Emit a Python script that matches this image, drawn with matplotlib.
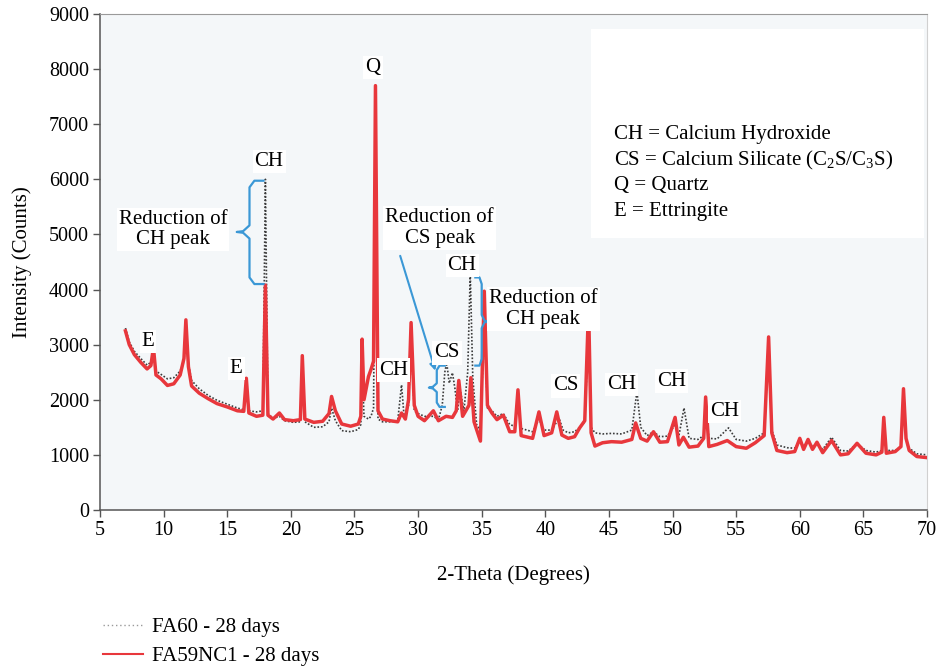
import numpy as np
import matplotlib
matplotlib.use('Agg')
import matplotlib.pyplot as plt
from matplotlib.lines import Line2D
from matplotlib.patches import Rectangle

plt.rcParams['font.family'] = ['Liberation Serif', 'DejaVu Serif']
plt.rcParams['mathtext.fontset'] = 'custom'
plt.rcParams['mathtext.rm'] = 'Liberation Serif'
plt.rcParams['mathtext.it'] = 'Liberation Serif:italic'

# FA59NC1 - 28 days (red)
red_theta = [7.0, 7.3, 7.7, 8.2, 8.7, 9.0, 9.2, 9.4, 9.8, 10.3, 10.8, 11.3, 11.6, 11.75, 11.95,
             12.2, 12.8, 13.5, 14.2, 15.0, 15.8, 16.3, 16.5, 16.7, 17.3, 17.8, 18.0, 18.2, 18.6,
             19.1, 19.5, 20.2, 20.75, 20.9, 21.1, 21.8, 22.5, 23.0, 23.2, 23.5, 24.0, 24.7, 25.3,
             25.5, 25.6, 25.75, 26.1, 26.3, 26.5, 26.65, 26.85, 27.2, 27.8, 28.4, 28.7, 29.0,
             29.25, 29.45, 29.7, 30.0, 30.5, 31.2, 31.6, 32.2, 32.7, 33.0, 33.2, 33.5, 34.0,
             34.15, 34.4, 34.9, 35.2, 35.45, 35.8, 36.2, 36.7, 37.2, 37.6, 37.85, 38.1, 39.0,
             39.5, 39.9, 40.5, 40.9, 41.3, 41.8, 42.3, 42.7, 43.1, 43.4, 43.6, 43.9, 44.5, 45.2,
             46.0, 46.8, 47.1, 47.5, 48.0, 48.5, 49.0, 49.6, 50.2, 50.5, 50.85, 51.3, 52.0,
             52.45, 52.6, 52.85, 53.5, 54.3, 55.0, 55.8, 56.5, 57.2, 57.55, 57.8, 58.2, 59.0,
             59.6, 60.0, 60.3, 60.65, 61.0, 61.35, 61.8, 62.5, 63.2, 63.8, 64.5, 65.2, 66.0,
             66.45, 66.6, 66.8, 67.5, 67.95, 68.15, 68.35, 68.6, 69.2, 70.0]
red_counts = [3250, 3000, 2820, 2680, 2560, 2620, 2950, 2450, 2380, 2260, 2290, 2450, 2750, 3450, 2600,
              2250, 2120, 2020, 1930, 1870, 1800, 1790, 2390, 1760, 1700, 1720, 4080, 1720, 1650,
              1760, 1640, 1620, 1640, 2800, 1650, 1590, 1610, 1750, 2060, 1800, 1560, 1520, 1560,
              1700, 3100, 2000, 2420, 2550, 2700, 7700, 1800, 1650, 1620, 1600, 1760, 1650,
              2000, 3400, 1900, 1700, 1620, 1800, 1620, 1700, 1680, 1800, 2350, 1700, 1900,
              2400, 1600, 1250, 3970, 1900, 1760, 1640, 1720, 1420, 1420, 2180, 1350, 1300,
              1780, 1350, 1400, 1780, 1360, 1300, 1330, 1490, 1620, 3680, 1400, 1160, 1220, 1240,
              1230, 1280, 1580, 1300, 1250, 1420, 1230, 1240, 1680, 1180, 1320, 1140, 1160,
              1300, 2050, 1150, 1190, 1260, 1150, 1120, 1220, 1350, 3140, 1400, 1080, 1040,
              1060, 1300, 1100, 1280, 1100, 1230, 1040, 1260, 1000, 1020, 1210, 1030, 1000,
              1050, 1680, 1030, 1060, 1150, 2200, 1300, 1080, 970, 950]

# FA60 - 28 days (dotted)
fa60_theta = [7.0, 7.3, 7.7, 8.2, 8.7, 9.0, 9.2, 9.4, 9.8, 10.3, 10.8, 11.3, 11.6, 11.75, 11.95,
              12.2, 12.8, 13.5, 14.2, 15.0, 15.8, 16.3, 16.5, 16.7, 17.3, 17.8, 18.0, 18.2, 18.6,
              19.1, 19.5, 20.2, 20.75, 20.9, 21.1, 21.8, 22.5, 23.0, 23.2, 23.5, 24.0, 24.7, 25.3,
              25.5, 25.6, 25.75, 26.1, 26.3, 26.5, 26.65, 26.85, 27.2, 27.8, 28.4, 28.7, 28.9,
              29.25, 29.45, 29.7, 30.0, 30.5, 31.2, 31.6, 31.9, 32.1, 32.25, 32.45, 32.7, 32.9,
              33.1, 33.3, 33.6, 33.9, 34.1, 34.3, 34.6, 34.9, 35.2, 35.45, 35.8, 36.2, 36.7, 37.2,
              37.6, 37.85, 38.1, 39.0, 39.5, 39.9, 40.5, 40.9, 41.1, 41.4, 41.8, 42.3, 42.7, 43.1,
              43.4, 43.6, 43.9, 44.5, 45.2, 46.0, 46.8, 47.2, 47.5, 48.0, 48.5, 49.0, 49.6, 50.2,
              50.5, 50.9, 51.3, 52.0, 52.45, 52.6, 52.85, 53.5, 54.4, 55.0, 55.8, 56.5, 57.2,
              57.55, 57.8, 58.2, 59.0, 59.6, 60.0, 60.3, 60.65, 61.0, 61.35, 61.8, 62.5, 63.2,
              63.8, 64.5, 65.2, 66.0, 66.45, 66.6, 66.8, 67.5, 67.95, 68.15, 68.35, 68.6, 69.2, 70.0]
fa60_counts = [3300, 3050, 2880, 2750, 2630, 2680, 2900, 2520, 2460, 2380, 2400, 2520, 2700, 3200, 2650,
               2350, 2200, 2080, 1990, 1920, 1850, 1820, 2200, 1800, 1780, 1800, 6000, 1750, 1660,
               1700, 1620, 1590, 1600, 2500, 1600, 1500, 1510, 1600, 1850, 1620, 1440, 1420, 1460,
               1550, 2600, 1700, 1650, 1700, 1850, 6500, 1650, 1600, 1600, 1620, 2270, 1700,
               1900, 3100, 1800, 1750, 1700, 1700, 1640, 1900, 2500, 2670, 2300, 2490, 2200,
               1800, 2200, 1800, 2500, 4300, 2400, 1550, 1450, 3400, 1850, 1800, 1700, 1750, 1550,
               1520, 2000, 1480, 1420, 1650, 1450, 1450, 1600, 1650, 1450, 1400, 1420, 1500, 1600,
               3300, 1500, 1400, 1380, 1390, 1380, 1450, 2150, 1500, 1350, 1420, 1330, 1340, 1550,
               1350, 1850, 1300, 1280, 1350, 1900, 1300, 1290, 1490, 1280, 1250, 1300, 1400,
               3000, 1450, 1180, 1130, 1120, 1250, 1150, 1250, 1150, 1200, 1100, 1320, 1080,
               1070, 1200, 1080, 1050, 1080, 1550, 1080, 1080, 1150, 2000, 1300, 1120, 1020, 1000]

series_labels = ['FA60 - 28 days', 'FA59NC1 - 28 days']
key_lines = ['CH = Calcium Hydroxide', 'CS = Calcium Silicate (C$_2$S/C$_3$S)',
             'Q = Quartz', 'E = Ettringite']
x_ticks = list(range(5, 75, 5))
y_ticks = list(range(0, 10000, 1000))

RED = '#e8373c'
BLUE = '#3b98d6'


def brace(ax, x_v, x_end, top, bot, x_tip, y_mid, dy=120):
    # curly bracket as polyline; x_tip side is the pointing side
    d = (x_end - x_v) * 0.35
    t = (x_tip - x_v) * 0.5
    xs = [x_end, x_v + d, x_v, x_v, x_v + t, x_tip, x_v + t, x_v, x_v, x_v + d, x_end]
    ys = [top, top, top - dy, y_mid + dy, y_mid + 15, y_mid, y_mid - 15, y_mid - dy, bot + dy, bot, bot]
    ax.plot(xs, ys, color=BLUE, lw=1.6, zorder=4, solid_joinstyle='round')


fig = plt.figure(figsize=(9.38, 6.67), dpi=100)
ax = fig.add_axes([0.1066, 0.2354, 0.8817, 0.7436])
ax.set_facecolor('#f4f7f9')

# white key box behind the abbreviations
ax.add_patch(Rectangle((43.6, 4930), 26.2, 3790, facecolor='white', edgecolor='none', zorder=1))

ax.plot(fa60_theta, fa60_counts, color='#3c3c3c', lw=1.2, linestyle=(0, (1, 1.1)), zorder=2)
ax.plot(red_theta, red_counts, color=RED, lw=2.5, zorder=3)

ax.set_xlim(5, 70)
ax.set_ylim(0, 9000)
ax.set_xticks(x_ticks)
ax.set_yticks(y_ticks)
ax.tick_params(direction='out', length=5, width=1, color='#555555', labelsize=14.5, pad=3)
for side in ['left', 'bottom']:
    ax.spines[side].set_color('#555555')
    ax.spines[side].set_linewidth(1.1)
ax.spines['top'].set_color('#9a9a9a')
ax.spines['right'].set_color('#d0d0d0')

ax.set_xlabel('2-Theta (Degrees)', fontsize=15, labelpad=18)
ax.set_ylabel('Intensity (Counts)', fontsize=15, labelpad=12)

# peak labels
box = dict(facecolor='white', edgecolor='none', pad=1.5)
lab = dict(fontsize=15, ha='center', va='center', bbox=box, zorder=5)
ax.text(26.46, 8030, 'Q', **lab)
ax.text(18.29, 6320, 'CH', **lab)
ax.text(10.74, 5090, 'Reduction of\nCH peak', linespacing=1.1, **lab)
ax.text(31.7, 5120, 'Reduction of\nCS peak', linespacing=1.1, **lab)
ax.text(39.83, 3650, 'Reduction of\nCH peak', linespacing=1.1, **lab)
ax.text(32.28, 2850, 'CS', **lab)
ax.text(33.46, 4430, 'CH', **lab)
ax.text(28.1, 2540, 'CH', **lab)
ax.text(41.6, 2250, 'CS', **lab)
ax.text(46.0, 2270, 'CH', **lab)
ax.text(49.9, 2340, 'CH', **lab)
ax.text(54.06, 1780, 'CH', **lab)
ax.text(8.77, 3050, 'E', **lab)
ax.text(15.7, 2560, 'E', **lab)

# brackets and arrow
brace(ax, 16.75, 17.85, 5975, 4100, 15.75, 5045)
brace(ax, 31.47, 32.1, 2620, 1870, 30.85, 2220, dy=80)
brace(ax, 35.0, 34.5, 4220, 2620, 35.45, 3420)
ax.annotate('', xy=(31.42, 2480), xytext=(28.53, 4660),
            arrowprops=dict(arrowstyle='-|>', color=BLUE, lw=1.5, mutation_scale=10), zorder=4)

for i, line in enumerate(key_lines):
    ax.text(45.4, 6820 - i * 470, line, fontsize=15, ha='left', va='center', zorder=5)

handles = [Line2D([], [], color='#9a9a9a', lw=1.0, linestyle=(0, (1, 2))),
           Line2D([], [], color=RED, lw=1.5)]
fig.legend(handles, series_labels, loc='upper left', bbox_to_anchor=(0.1098, 0.0745),
           frameon=False, fontsize=15, handlelength=1.92, handletextpad=0.43, labelspacing=0.45,
           borderaxespad=0, borderpad=0)

fig.savefig('out.png', dpi=100, facecolor='white')
